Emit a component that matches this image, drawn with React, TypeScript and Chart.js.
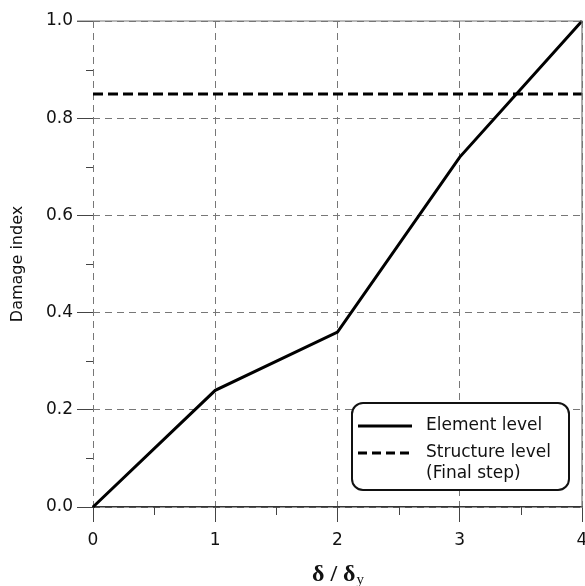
import React, { useEffect, useRef } from "react";
import { Chart, registerables } from "chart.js";

Chart.register(...registerables);

const xValues = [0, 1, 2, 3, 4];
const elementLevel = [0, 0.24, 0.36, 0.72, 1.0];
const structureLevel = [0.85, 0.85, 0.85, 0.85, 0.85];
const seriesLabels = ["Element level", "Structure level"];
const legendSubLabel = "(Final step)";
const yTitle = "Damage index";
const xTitleMain = "δ / δ";
const xTitleSub = "y";
const yMinorTicks = [0.1, 0.3, 0.5, 0.7, 0.9];
const xMinorTicks = [0.5, 1.5, 2.5, 3.5];

const FONT = "'DejaVu Sans', sans-serif";

const decorPlugin = {
  id: "decor",
  afterDraw(chart: any) {
    const { ctx, chartArea, scales } = chart;
    const xs = scales.x;
    const ys = scales.y;
    ctx.save();
    // top and right frame
    ctx.setLineDash([]);
    ctx.strokeStyle = "#777";
    ctx.lineWidth = 1.2;
    ctx.beginPath();
    ctx.moveTo(chartArea.left - 16, chartArea.top);
    ctx.lineTo(chartArea.right, chartArea.top);
    ctx.lineTo(chartArea.right, chartArea.bottom);
    ctx.stroke();
    // minor ticks
    ctx.strokeStyle = "#444";
    ctx.lineWidth = 1;
    ctx.beginPath();
    for (const v of yMinorTicks) {
      const py = Math.round(ys.getPixelForValue(v)) + 0.5;
      ctx.moveTo(chartArea.left - 7, py);
      ctx.lineTo(chartArea.left, py);
    }
    for (const v of xMinorTicks) {
      const px = Math.round(xs.getPixelForValue(v)) + 0.5;
      ctx.moveTo(px, chartArea.bottom);
      ctx.lineTo(px, chartArea.bottom + 8);
    }
    ctx.stroke();

    // y title
    ctx.fillStyle = "#111";
    ctx.font = `16px ${FONT}`;
    ctx.textAlign = "center";
    ctx.textBaseline = "middle";
    ctx.save();
    ctx.translate(18, (chartArea.top + chartArea.bottom) / 2);
    ctx.rotate(-Math.PI / 2);
    ctx.fillText(yTitle, 0, 0);
    ctx.restore();

    // x title
    const cx = (chartArea.left + chartArea.right) / 2;
    const mainFont = `bold 24px 'Liberation Serif', serif`;
    const subFont = `15px 'Liberation Serif', serif`;
    ctx.font = mainFont;
    const wMain = ctx.measureText(xTitleMain).width;
    ctx.font = subFont;
    const wSub = ctx.measureText(xTitleSub).width;
    const startX = cx - (wMain + wSub) / 2;
    ctx.textAlign = "left";
    ctx.textBaseline = "alphabetic";
    ctx.font = mainFont;
    ctx.fillText(xTitleMain, startX, 581);
    ctx.font = subFont;
    ctx.fillText(xTitleSub, startX + wMain + 1, 584);

    // legend box
    const bx = 352, by = 403, bw = 217, bh = 87, r = 11;
    ctx.fillStyle = "#fff";
    ctx.strokeStyle = "#111";
    ctx.lineWidth = 2;
    ctx.beginPath();
    ctx.moveTo(bx + r, by);
    ctx.lineTo(bx + bw - r, by);
    ctx.arcTo(bx + bw, by, bx + bw, by + r, r);
    ctx.lineTo(bx + bw, by + bh - r);
    ctx.arcTo(bx + bw, by + bh, bx + bw - r, by + bh, r);
    ctx.lineTo(bx + r, by + bh);
    ctx.arcTo(bx, by + bh, bx, by + bh - r, r);
    ctx.lineTo(bx, by + r);
    ctx.arcTo(bx, by, bx + r, by, r);
    ctx.closePath();
    ctx.fill();
    ctx.stroke();

    // legend samples
    ctx.lineWidth = 3;
    ctx.strokeStyle = "#000";
    ctx.beginPath();
    ctx.moveTo(358, 426);
    ctx.lineTo(412, 426);
    ctx.stroke();
    ctx.setLineDash([9, 5]);
    ctx.beginPath();
    ctx.moveTo(358, 453);
    ctx.lineTo(412, 453);
    ctx.stroke();
    ctx.setLineDash([]);

    ctx.fillStyle = "#111";
    ctx.font = `17px ${FONT}`;
    ctx.textAlign = "left";
    ctx.textBaseline = "middle";
    ctx.fillText(seriesLabels[0], 426, 426);
    ctx.fillText(seriesLabels[1], 426, 453);
    ctx.fillText(legendSubLabel, 426, 474);
    ctx.restore();
  },
};

export default function App() {
  const ref = useRef<HTMLCanvasElement | null>(null);
  useEffect(() => {
    if (!ref.current) return;
    const chart = new Chart(ref.current, {
      type: "line",
      data: {
        datasets: [
          {
            label: seriesLabels[0],
            data: xValues.map((x, i) => ({ x, y: elementLevel[i] })),
            borderColor: "#000",
            borderWidth: 3,
            pointRadius: 0,
            tension: 0,
          },
          {
            label: seriesLabels[1],
            data: xValues.map((x, i) => ({ x, y: structureLevel[i] })),
            borderColor: "#000",
            borderWidth: 3,
            borderDash: [10, 5],
            pointRadius: 0,
            tension: 0,
          },
        ],
      },
      options: {
        responsive: false,
        animation: false,
        events: [],
        clip: false,
        layout: { padding: { left: 0, top: 21, right: 3, bottom: 0 } },
        plugins: { legend: { display: false }, tooltip: { enabled: false } },
        scales: {
          x: {
            type: "linear",
            min: 0,
            max: 4,
            afterFit: (s: any) => {
              s.height = 79;
              s.paddingRight = 0;
              s.paddingLeft = 0;
            },
            ticks: {
              stepSize: 1,
              color: "#111",
              font: { family: "'DejaVu Sans', sans-serif", size: 17 },
              padding: 8,
              maxRotation: 0,
            },
            grid: {
              color: "#777",
              lineWidth: 1,
              tickLength: 15,
              tickColor: "#444",
              tickBorderDash: [],
            },
            border: { display: true, color: "#333", width: 1.5, dash: [7, 5] },
          },
          y: {
            type: "linear",
            min: 0,
            max: 1,
            afterFit: (s: any) => {
              s.width = 93;
              s.paddingTop = 0;
              s.paddingBottom = 0;
            },
            ticks: {
              stepSize: 0.2,
              color: "#111",
              font: { family: "'DejaVu Sans', sans-serif", size: 17 },
              padding: 4,
              callback: (v: any) => Number(v).toFixed(1),
            },
            grid: {
              color: "#777",
              lineWidth: 1,
              tickLength: 16,
              tickColor: "#444",
              tickBorderDash: [],
            },
            border: { display: false, dash: [7, 5] },
          },
        },
      },
      plugins: [decorPlugin],
    } as any);
    return () => chart.destroy();
  }, []);
  return (
    <div style={{ position: "absolute", left: 0, top: 0, width: 585, height: 586, background: "#fff" }}>
      <canvas ref={ref} width={585} height={586} style={{ display: "block" }} />
    </div>
  );
}
